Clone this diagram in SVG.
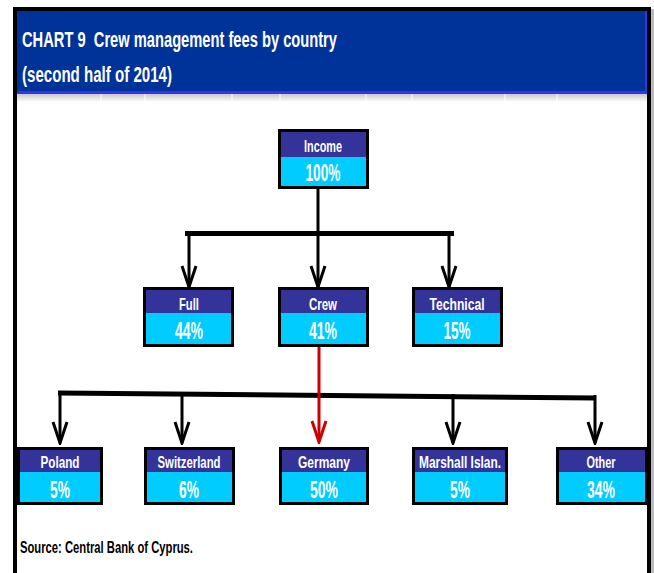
<svg xmlns="http://www.w3.org/2000/svg" width="654" height="573" viewBox="0 0 654 573">
<defs>
<style>
.frame{fill:none;stroke:#000;stroke-width:4}
.title{font-family:"Liberation Sans",Arial,sans-serif;font-weight:bold;font-size:22px;fill:#fff}
.src{font-family:"Liberation Sans",Arial,sans-serif;font-weight:bold;font-size:16px;fill:#000}
.top{fill:#333399}
.bot{fill:#00CCFF}
.box{fill:none;stroke:#000;stroke-width:3}
.lbl{font-family:"Liberation Sans",Arial,sans-serif;font-weight:bold;font-size:17px;fill:#fff;text-anchor:middle}
.pct{font-family:"Liberation Sans",Arial,sans-serif;font-weight:bold;font-size:23px;fill:#fff;text-anchor:middle}
.stem{fill:none;stroke:#000;stroke-width:3}
.bar{fill:none;stroke:#000;stroke-width:5}
.arrow{fill:none;stroke:#000;stroke-width:3;marker-end:url(#ah)}
.red{fill:none;stroke:#CC0000;stroke-width:3;marker-end:url(#ahr)}
.grid{stroke:#fff;stroke-width:1}
</style>
<linearGradient id="gs" x1="0" y1="0" x2="0" y2="1">
<stop offset="0" stop-color="#c8c8c8"/>
<stop offset="1" stop-color="#ffffff"/>
</linearGradient>
<marker id="ah" markerUnits="userSpaceOnUse" viewBox="-24 -10 26 20" refX="0" refY="0" markerWidth="26" markerHeight="20" orient="auto">
<path d="M-21,-7 L0,0 L-21,7" fill="none" stroke="#000" stroke-width="3"/>
</marker>
<marker id="ahr" markerUnits="userSpaceOnUse" viewBox="-24 -10 26 20" refX="0" refY="0" markerWidth="26" markerHeight="20" orient="auto">
<path d="M-21,-7 L0,0 L-21,7" fill="none" stroke="#CC0000" stroke-width="3"/>
</marker>
</defs>
<rect x="0" y="0" width="654" height="573" fill="#fff"/>
<rect x="651" y="9" width="3" height="564" fill="#bbb"/>

<g id="header">
<rect x="17" y="11" width="630" height="83" fill="#003399"/>
<rect x="17" y="91" width="630" height="3" fill="#3333EE"/>
<rect x="645" y="11" width="2" height="83" fill="#3333EE"/>
<rect x="17" y="94" width="630" height="8" fill="url(#gs)"/>
<g class="grid">
<line x1="101" y1="94" x2="101" y2="102"/><line x1="145" y1="94" x2="145" y2="102"/>
<line x1="232" y1="94" x2="232" y2="102"/><line x1="280" y1="94" x2="280" y2="102"/>
<line x1="366" y1="94" x2="366" y2="102"/><line x1="412" y1="94" x2="412" y2="102"/>
<line x1="505" y1="94" x2="505" y2="102"/><line x1="557" y1="94" x2="557" y2="102"/>
</g>
<text class="title" x="22" y="47" textLength="315" lengthAdjust="spacingAndGlyphs" xml:space="preserve">CHART 9  Crew management fees by country</text>
<text class="title" x="22" y="82" textLength="150" lengthAdjust="spacingAndGlyphs">(second half of 2014)</text>
</g>

<path class="frame" d="M15,573 V9 H649 V573"/>

<g id="connectors">
<line class="stem" x1="318" y1="188" x2="318" y2="233"/>
<line class="bar" x1="185" y1="233.5" x2="454" y2="233.5"/>
<line class="arrow" x1="189" y1="233" x2="189" y2="287"/>
<line class="arrow" x1="318" y1="233" x2="318" y2="287"/>
<line class="arrow" x1="449" y1="233" x2="449" y2="287"/>
<line class="bar" x1="58" y1="393" x2="596" y2="398"/>
<line class="arrow" x1="60" y1="393" x2="60" y2="443"/>
<line class="arrow" x1="182" y1="394" x2="182" y2="443"/>
<line class="arrow" x1="453" y1="394" x2="453" y2="443"/>
<line class="arrow" x1="595" y1="395" x2="595" y2="443"/>
<line class="red" x1="319" y1="346" x2="319" y2="442"/>
</g>

<g id="income">
<rect class="top" x="280" y="131" width="87" height="26"/>
<rect class="bot" x="280" y="157" width="87" height="30"/>
<rect class="box" x="279.5" y="130.5" width="88" height="57"/>
<text class="lbl" x="323" y="152" textLength="38" lengthAdjust="spacingAndGlyphs">Income</text>
<text class="pct" x="323" y="181" textLength="35" lengthAdjust="spacingAndGlyphs">100%</text>
</g>

<g id="full">
<rect class="top" x="145" y="289" width="87" height="24"/>
<rect class="bot" x="145" y="313" width="87" height="32"/>
<rect class="box" x="144.5" y="288.5" width="88" height="57"/>
<text class="lbl" x="189" y="310" textLength="20" lengthAdjust="spacingAndGlyphs">Full</text>
<text class="pct" x="189" y="339" textLength="28" lengthAdjust="spacingAndGlyphs">44%</text>
</g>

<g id="crew">
<rect class="top" x="280" y="289" width="87" height="24"/>
<rect class="bot" x="280" y="313" width="87" height="32"/>
<rect class="box" x="279.5" y="288.5" width="88" height="57"/>
<text class="lbl" x="323" y="310" textLength="28" lengthAdjust="spacingAndGlyphs">Crew</text>
<text class="pct" x="323" y="339" textLength="28" lengthAdjust="spacingAndGlyphs">41%</text>
</g>

<g id="technical">
<rect class="top" x="414" y="289" width="87" height="24"/>
<rect class="bot" x="414" y="313" width="87" height="32"/>
<rect class="box" x="413.5" y="288.5" width="88" height="57"/>
<text class="lbl" x="457" y="310" textLength="55" lengthAdjust="spacingAndGlyphs">Technical</text>
<text class="pct" x="457" y="339" textLength="27" lengthAdjust="spacingAndGlyphs">15%</text>
</g>

<g id="poland">
<rect class="top" x="19" y="449" width="82" height="23"/>
<rect class="bot" x="19" y="472" width="82" height="31"/>
<rect class="box" x="18.5" y="448.5" width="83" height="55"/>
<text class="lbl" x="60" y="468" textLength="39" lengthAdjust="spacingAndGlyphs">Poland</text>
<text class="pct" x="60" y="498" textLength="20" lengthAdjust="spacingAndGlyphs">5%</text>
</g>

<g id="switzerland">
<rect class="top" x="146" y="449" width="87" height="23"/>
<rect class="bot" x="146" y="472" width="87" height="31"/>
<rect class="box" x="145.5" y="448.5" width="88" height="55"/>
<text class="lbl" x="189" y="468" textLength="63" lengthAdjust="spacingAndGlyphs">Switzerland</text>
<text class="pct" x="189" y="498" textLength="20" lengthAdjust="spacingAndGlyphs">6%</text>
</g>

<g id="germany">
<rect class="top" x="281" y="449" width="86" height="23"/>
<rect class="bot" x="281" y="472" width="86" height="31"/>
<rect class="box" x="280.5" y="448.5" width="87" height="55"/>
<text class="lbl" x="324" y="468" textLength="52" lengthAdjust="spacingAndGlyphs">Germany</text>
<text class="pct" x="324" y="498" textLength="28" lengthAdjust="spacingAndGlyphs">50%</text>
</g>

<g id="marshall">
<rect class="top" x="414" y="449" width="92" height="23"/>
<rect class="bot" x="414" y="472" width="92" height="31"/>
<rect class="box" x="413.5" y="448.5" width="93" height="55"/>
<text class="lbl" x="460" y="468" textLength="82" lengthAdjust="spacingAndGlyphs">Marshall Islan.</text>
<text class="pct" x="460" y="498" textLength="20" lengthAdjust="spacingAndGlyphs">5%</text>
</g>

<g id="other">
<rect class="top" x="558" y="449" width="88" height="23"/>
<rect class="bot" x="558" y="472" width="88" height="31"/>
<rect class="box" x="557.5" y="448.5" width="89" height="55"/>
<text class="lbl" x="601" y="468" textLength="29" lengthAdjust="spacingAndGlyphs">Other</text>
<text class="pct" x="601" y="498" textLength="28" lengthAdjust="spacingAndGlyphs">34%</text>
</g>

<text class="src" x="20" y="553" textLength="173" lengthAdjust="spacingAndGlyphs">Source: Central Bank of Cyprus.</text>
</svg>
